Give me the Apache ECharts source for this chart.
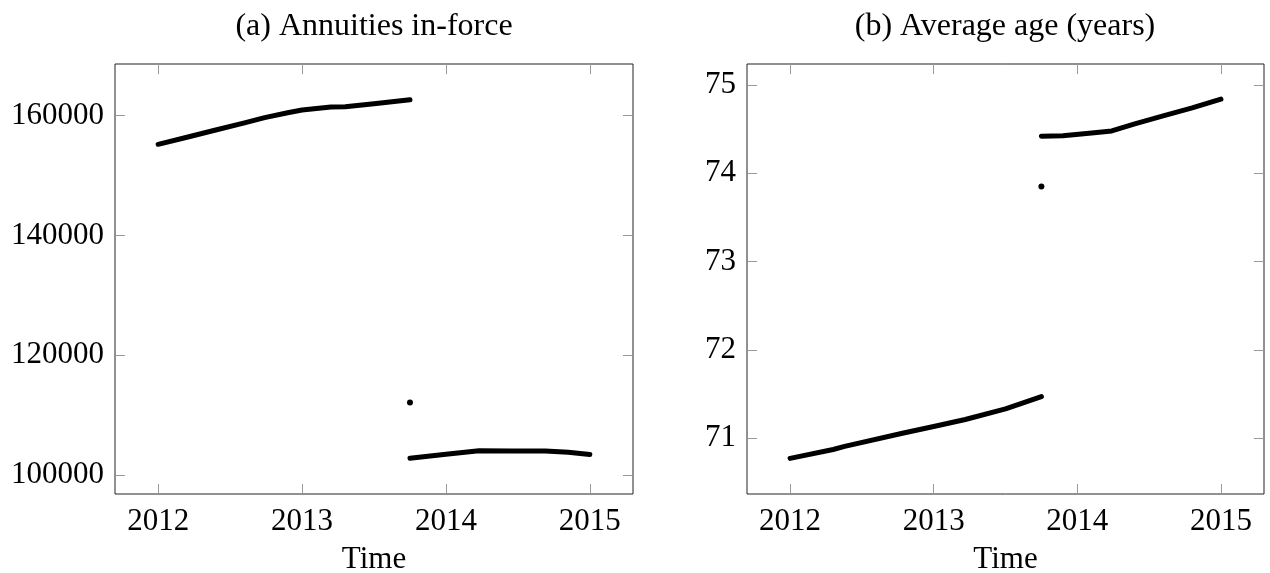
<!DOCTYPE html>
<html>
<head>
<meta charset="utf-8">
<script src="https://cdn.jsdelivr.net/npm/echarts@6/dist/echarts.min.js"></script>
<style>
html,body{margin:0;padding:0;background:#fff;}
#chart{width:1270px;height:573px;}
</style>
</head>
<body>
<div id="chart"></div>
<script>
// ---- data ----
const xTickValues = [2012, 2013, 2014, 2015];
const yTicksA = [100000, 120000, 140000, 160000];
const yTicksB = [71, 72, 73, 74, 75];

// (a) Annuities in-force
const timeA1 = [2012.0, 2012.2, 2012.4, 2012.6, 2012.74, 2012.9, 2013.0, 2013.2, 2013.3, 2013.5, 2013.75];
const annuitiesA1 = [155220, 156400, 157610, 158800, 159670, 160500, 160950, 161450, 161500, 162000, 162650];
const timeA2 = [2013.75, 2014.0, 2014.23, 2014.45, 2014.69, 2014.85, 2015.0];
const annuitiesA2 = [102800, 103450, 104050, 104030, 104030, 103800, 103420];
const timeAdot = [2013.75];
const annuitiesAdot = [112100];

// (b) Average age (years)
const timeB1 = [2012.0, 2012.3, 2012.38, 2012.79, 2013.0, 2013.22, 2013.5, 2013.75];
const ageB1 = [70.77, 70.87, 70.905, 71.057, 71.13, 71.21, 71.33, 71.47];
const timeB2 = [2013.75, 2013.9, 2014.1, 2014.24, 2014.4, 2014.61, 2014.8, 2015.0];
const ageB2 = [74.42, 74.425, 74.455, 74.48, 74.56, 74.655, 74.74, 74.84];
const timeBdot = [2013.75];
const ageBdot = [73.85];

const titles = ['(a) Annuities in-force', '(b) Average age (years)'];
const xName = 'Time';

// ---- build chart ----
const FONT = '"Liberation Serif", "Times New Roman", serif';
const pairs = (xs, ys) => xs.map((x, i) => [x, ys[i]]);
const plain = v => String(v);

function xAx(g, pos, labels) {
  return {
    type: 'value', gridIndex: g, position: pos, min: 2011.7, max: 2015.3,
    axisLine: { show: false }, splitLine: { show: false },
    axisTick: { show: true, inside: true, length: 10, customValues: xTickValues,
                lineStyle: { color: '#999', width: 1 } },
    axisLabel: { show: labels, customValues: xTickValues, margin: 12, formatter: plain,
                 color: '#000', fontFamily: FONT, fontSize: 31 },
    name: labels ? xName : '', nameLocation: 'middle', nameGap: 50,
    nameTextStyle: { color: '#000', fontFamily: FONT, fontSize: 31 }
  };
}
function yAx(g, pos, labels, mn, mx, ticks) {
  return {
    type: 'value', gridIndex: g, position: pos, min: mn, max: mx,
    axisLine: { show: false }, splitLine: { show: false },
    axisTick: { show: true, inside: true, length: 10, customValues: ticks,
                lineStyle: { color: '#999', width: 1 } },
    axisLabel: { show: labels, customValues: ticks, margin: 11, formatter: plain,
                 color: '#000', fontFamily: FONT, fontSize: 31 }
  };
}
function line(xi, yi, data) {
  return { type: 'line', xAxisIndex: xi, yAxisIndex: yi, data: data, symbol: 'none',
           silent: true, lineStyle: { color: '#000', width: 5, cap: 'round', join: 'round' } };
}
function dot(xi, yi, data) {
  return { type: 'scatter', xAxisIndex: xi, yAxisIndex: yi, data: data, symbolSize: 6,
           silent: true, itemStyle: { color: '#000', opacity: 1 } };
}

const chart = echarts.init(document.getElementById('chart'), null, { renderer: 'canvas' });
chart.setOption({
  animation: false,
  backgroundColor: '#fff',
  grid: [
    { left: 115, right: 637, top: 64, bottom: 79, containLabel: false, outerBoundsMode: 'none',
      show: true, borderColor: '#222', borderWidth: 1, backgroundColor: 'transparent' },
    { left: 747, right: 6, top: 64, bottom: 79, containLabel: false, outerBoundsMode: 'none',
      show: true, borderColor: '#222', borderWidth: 1, backgroundColor: 'transparent' }
  ],
  xAxis: [xAx(0, 'bottom', true), xAx(0, 'top', false), xAx(1, 'bottom', true), xAx(1, 'top', false)],
  yAxis: [
    yAx(0, 'left', true, 96830, 168630, yTicksA), yAx(0, 'right', false, 96830, 168630, yTicksA),
    yAx(1, 'left', true, 70.366, 75.238, yTicksB), yAx(1, 'right', false, 70.366, 75.238, yTicksB)
  ],
  graphic: [
    { type: 'text', x: 374, y: 27, style: { text: titles[0], fill: '#000', font: '32px ' + FONT, align: 'center', verticalAlign: 'middle' } },
    { type: 'text', x: 1005, y: 27, style: { text: titles[1], fill: '#000', font: '32px ' + FONT, align: 'center', verticalAlign: 'middle' } }
  ],
  series: [
    line(0, 0, pairs(timeA1, annuitiesA1)),
    line(0, 0, pairs(timeA2, annuitiesA2)),
    dot(0, 0, pairs(timeAdot, annuitiesAdot)),
    line(2, 2, pairs(timeB1, ageB1)),
    line(2, 2, pairs(timeB2, ageB2)),
    dot(2, 2, pairs(timeBdot, ageBdot))
  ]
});
</script>
</body>
</html>
